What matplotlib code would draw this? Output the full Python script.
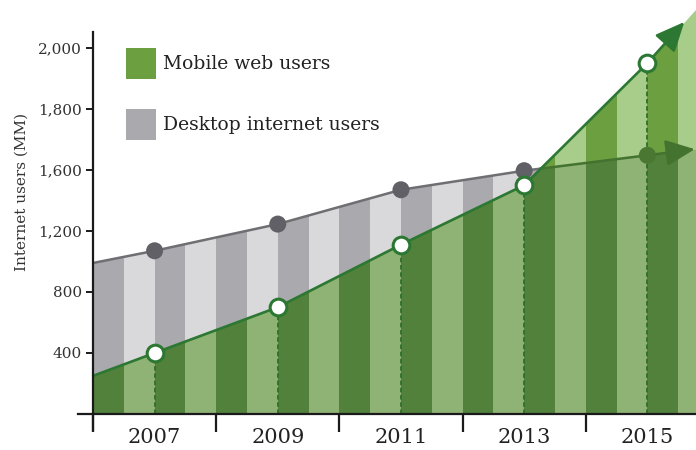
import numpy as np
import matplotlib
matplotlib.use('Agg')
import matplotlib.pyplot as plt
from matplotlib.patches import Rectangle

# values (millions of users)
years = [2007, 2009, 2011, 2013, 2015]
mobile = [400, 700, 1110, 1500, 1950]
desktop = [1070, 1245, 1470, 1595, 1648]

# where the trend lines meet the plot edges
edge_years = [2006, 2015.8]
mobile_edges = [250, 2130]
desktop_edges = [990, 1668]

y_ticks = [400, 800, 1200, 1600, 1800, 2000]
x_labels = ['2007', '2009', '2011', '2013', '2015']
legend_labels = ['Mobile web users', 'Desktop internet users']

grey_dark, grey_light = '#a9a9ae', '#d9d9dc'
over_dark, over_light = '#51813a', '#8fb275'
mob_dark, mob_light = '#6b9f40', '#a8cc8a'
line_green = '#2c7832'
desk_grey = '#6e6e73'
desk_green = '#44732f'

plt.rcParams['font.family'] = ['DejaVu Serif']


# the axis climbs 400 per step up to 1,600, then 200 per step
def fwd(v):
    v = np.asarray(v, dtype=float)
    return np.where(v <= 1600, v / 400.0, 4 + (v - 1600) / 200.0)


def inv(u):
    u = np.asarray(u, dtype=float)
    return np.where(u <= 4, u * 400.0, 1600 + (u - 4) * 200.0)


xs = np.array([edge_years[0]] + years + [edge_years[1]], dtype=float)
mob_l = np.array([mobile_edges[0]] + mobile + [mobile_edges[1]], dtype=float)
desk_l = np.array([desktop_edges[0]] + desktop + [desktop_edges[1]], dtype=float)

# crossing point of the two lines (in axis space)
mu, du = fwd(mob_l), fwd(desk_l)
d = mu - du
i = np.where(np.diff(np.sign(d)) != 0)[0][0]
t = d[i] / (d[i] - d[i + 1])
xc = xs[i] + t * (xs[i + 1] - xs[i])
vc = float(inv(mu[i] + t * (mu[i + 1] - mu[i])))
xf = np.insert(xs, i + 1, xc)
mob_f = np.insert(mob_l, i + 1, vc)
desk_f = np.insert(desk_l, i + 1, vc)
low_f = np.minimum(mob_f, desk_f)

fig = plt.figure(figsize=(6.96, 4.5), dpi=100)
ax = fig.add_axes([93 / 696, 36 / 450, 603 / 696, 414 / 450])
ax.set_yscale('function', functions=(fwd, inv))
ax.set_xlim(2006, 2015.79)
ax.set_ylim(0, 2157)

stripe_x = np.arange(2006, 2016) + 0.25


def striped(top, light, dark, z):
    poly = ax.fill_between(xf, 0, top, color=light, lw=0, zorder=z)
    bars = ax.bar(stripe_x, 2400, width=0.5, color=dark, lw=0, zorder=z)
    for b in bars:
        b.set_clip_path(poly.get_paths()[0], ax.transData)


striped(desk_f, grey_light, grey_dark, 1)
striped(mob_f, mob_light, mob_dark, 2)
striped(low_f, over_light, over_dark, 3)

# dashed drop lines under the mobile markers
ax.vlines(years, 0, mobile, colors='#2f6e2c', linestyles=(0, (2.5, 1.5)), lw=1.3, zorder=4)

# desktop line: grey until the crossing, green after
k = i + 1
ax.plot(xf[:k + 1], desk_f[:k + 1], color=desk_grey, lw=1.8, zorder=5)
last = len(xf) - 2
ax.plot(xf[k:last + 1], desk_f[k:last + 1], color=desk_green, lw=1.8, zorder=5)
ax.annotate('', xy=(2015.77, desktop_edges[1]), xytext=(years[-1], desktop[-1]),
            arrowprops=dict(arrowstyle='-|>,head_length=1.0,head_width=0.45', mutation_scale=18,
                            color=desk_green, lw=1.8, shrinkA=0, shrinkB=0), zorder=5)

# mobile line with arrow
ax.plot(xf[:last + 1], mob_f[:last + 1], color=line_green, lw=1.9, zorder=5)
tip_x = 2015.6
frac = (tip_x - years[-1]) / (edge_years[1] - years[-1])
tip_v = float(inv(fwd(mobile[-1]) + frac * (fwd(mobile_edges[1]) - fwd(mobile[-1]))))
ax.annotate('', xy=(tip_x, tip_v), xytext=(years[-1], mobile[-1]),
            arrowprops=dict(arrowstyle='-|>,head_length=1.0,head_width=0.45', mutation_scale=18,
                            color=line_green, lw=1.9, shrinkA=0, shrinkB=0), zorder=5)

# markers
desk_cols = ['#606066' if dv >= mv else '#4a7731' for dv, mv in zip(desktop, mobile)]
ax.scatter(years, desktop, s=150, c=desk_cols, lw=0, zorder=6)
ax.plot(years, mobile, 'o', mfc='white', mec=line_green, ms=12, mew=2.2, zorder=7, ls='none')

# axes
for s in ax.spines.values():
    s.set_visible(False)
ax.plot([0, 0], [-0.039, 0.923], transform=ax.transAxes, color='#1a1a1a', lw=1.6,
        clip_on=False, zorder=10)
ax.plot([-0.025, 1], [0, 0], transform=ax.transAxes, color='#1a1a1a', lw=1.6,
        clip_on=False, zorder=10)

ax.set_yticks(y_ticks)
ax.set_yticklabels([f'{v:,}' for v in y_ticks])
ax.yaxis.set_minor_locator(matplotlib.ticker.NullLocator())
ax.tick_params(axis='y', direction='out', length=5, width=1.4, color='#1a1a1a',
               labelsize=11, labelcolor='#333333', pad=3)

ax.set_xticks(np.arange(2006, 2015, 2))
ax.set_xticklabels([])
ax.set_xticks(years, minor=True)
ax.set_xticklabels(x_labels, minor=True)
ax.tick_params(axis='x', which='major', direction='out', length=13, width=1.6, color='#1a1a1a')
ax.tick_params(axis='x', which='minor', length=0, labelsize=15, labelcolor='#222222', pad=10)

fig.text(0.031, 0.573, 'Internet users (MM)', rotation=90, ha='center', va='center',
         fontsize=11, color='#333333')

# legend: square swatches with labels
for col, lab, top in zip([mob_dark, grey_dark], legend_labels, [48, 109]):
    fig.patches.append(Rectangle((126 / 696, 1 - (top + 31) / 450), 30 / 696, 31 / 450,
                                 transform=fig.transFigure, facecolor=col, edgecolor='none'))
    fig.text(163 / 696, 1 - (top + 16) / 450, lab, ha='left', va='center', fontsize=13.5,
             color='#222222')

fig.savefig('out.png', dpi=100)
